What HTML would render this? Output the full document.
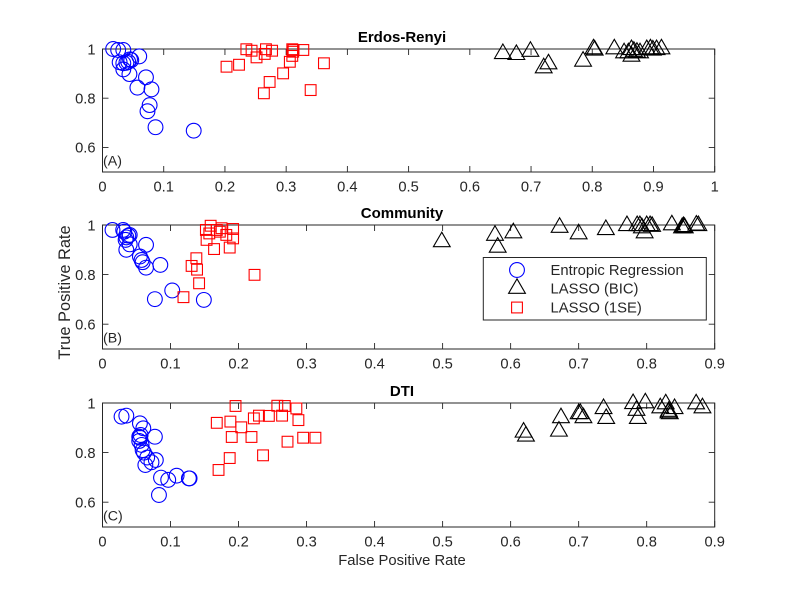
<!DOCTYPE html>
<html lang="en">
<head>
<meta charset="utf-8">
<title>True Positive Rate vs False Positive Rate</title>
<style>
html,body{margin:0;padding:0;background:#fff;width:789px;height:592px;overflow:hidden}
svg{display:block;font-family:"Liberation Sans",sans-serif;filter:blur(0.35px)}
</style>
</head>
<body>
<svg id="chart" xmlns="http://www.w3.org/2000/svg" width="789" height="592" viewBox="0 0 789 592"></svg>
<script>
var panelTitles = ['Erdos-Renyi', 'Community', 'DTI'];
var panelTags = ['(A)', '(B)', '(C)'];
var xMaxes = [1, 0.9, 0.9];
var xTicksA = [0, 0.1, 0.2, 0.3, 0.4, 0.5, 0.6, 0.7, 0.8, 0.9, 1];
var xTicksBC = [0, 0.1, 0.2, 0.3, 0.4, 0.5, 0.6, 0.7, 0.8, 0.9];
var yTicks = [0.6, 0.8, 1];

var entropicAx = [.0174,.0256,.034,.06,.028,.034,.034,.044,.042,.045,.039,.047,.071,.057,.08,.077,.0735,.0866,.149];
var entropicAy = [1,.996,.996,.97,.946,.942,.917,.898,.948,.958,.944,.955,.885,.843,.836,.772,.747,.682,.668];
var bicAx = [.654,.676,.699,.7285,.7207,.785,.802,.804,.836,.852,.864,.859,.864,.868,.873,.878,.889,.895,.899,.905,.913];
var bicAy = [.981,.977,.99,.939,.923,.95,1,.995,1,.984,.997,.984,.97,.99,.986,.984,.997,1,.995,.997,1];
var sparseAx = [.235,.2435,.2516,.2026,.223,.265,.267,.277,.295,.273,.2636,.306,.31,.31,.3115,.312,.328,.3617,.34];
var sparseAy = [.999,.993,.966,.928,.936,.98,.999,.993,.901,.866,.82,.948,.972,.999,.989,.996,.996,.942,.833];

var entropicBx = [.0147,.0304,.032,.04,.035,.034,.038,.04,.035,.064,.055,.0574,.059,.064,.085,.1025,.077,.149];
var entropicBy = [.98,.98,.973,.96,.95,.94,.957,.922,.9,.92,.873,.859,.85,.828,.839,.736,.701,.698];
var bicBx = [.4988,.577,.581,.604,.672,.7,.74,.771,.786,.79,.797,.793,.8,.805,.808,.837,.852,.855,.856,.854,.873,.876];
var bicBy = [.932,.958,.91,.968,.99,.964,.981,.997,.997,.997,.968,.988,.997,.997,.994,1,.988,.99,.988,.993,.999,.997];
var sparseBx = [.152,.159,.153,.157,.168,.175,.1725,.182,.192,.192,.164,.187,.138,.131,.139,.142,.119,.2235];
var sparseBy = [.98,.997,.94,.966,.98,.987,.973,.96,.984,.946,.903,.909,.866,.835,.82,.765,.709,.799];

var entropicCx = [.028,.035,.055,.06,.054,.055,.056,.077,.054,.0575,.059,.061,.0657,.072,.063,.0784,.086,.0966,.109,.127,.128,.083];
var entropicCy = [.945,.949,.918,.898,.864,.86,.871,.864,.847,.831,.81,.8,.78,.761,.75,.77,.699,.69,.707,.696,.696,.629];
var bicCx = [.619,.6225,.674,.671,.7,.7025,.707,.7366,.7405,.78,.785,.787,.798,.82,.828,.841,.832,.834,.8325,.8727,.882];
var bicCy = [.882,.866,.94,.886,.956,.957,.94,.977,.937,.997,.97,.937,1,.98,.996,.977,.96,.956,.966,.996,.98];
var sparseCx = [.1956,.168,.188,.204,.19,.219,.2225,.23,.2446,.257,.268,.264,.285,.288,.272,.295,.313,.236,.187,.1706];
var sparseCy = [.988,.92,.925,.902,.863,.863,.938,.949,.948,.989,.988,.949,.978,.931,.844,.86,.86,.789,.778,.73];

var legendLabels = ['Entropic Regression', 'LASSO (BIC)', 'LASSO (1SE)'];

var svg = document.getElementById('chart');
var NS = 'http://www.w3.org/2000/svg';
var AXC = '#262626';
var left = 102.5, right = 714.7;
var panelTops = [49, 225, 403];
var panelBottoms = [172, 349, 527];

function make(tag, attrs, parent, text) {
  var el = document.createElementNS(NS, tag);
  for (var k in attrs) el.setAttribute(k, attrs[k]);
  if (text !== undefined) el.textContent = text;
  (parent || svg).appendChild(el);
  return el;
}
function xScale(v, i) { return left + v / xMaxes[i] * (right - left); }
function yScale(v, i) { return panelBottoms[i] - (v - 0.5) / 0.5 * (panelBottoms[i] - panelTops[i]); }

function circle(parent, cx, cy) {
  var el = make('circle', {cx: cx, cy: cy, r: 7.4, fill: 'none', stroke: '#0000ff', 'stroke-width': 1.1}, parent);
  
  
}
function triangle(parent, cx, cy) {
  var r = 9.7, hw = r * 0.866;
  var pts = cx + ',' + (cy - r) + ' ' + (cx + hw) + ',' + (cy + r / 2) + ' ' + (cx - hw) + ',' + (cy + r / 2);
  var el = make('polygon', {points: pts, fill: 'none', stroke: '#000', 'stroke-width': 1.1}, parent);
  
  
}
function square(parent, cx, cy) {
  var el = make('rect', {x: cx - 5.4, y: cy - 5.4, width: 10.8, height: 10.8, fill: 'none', stroke: '#ff0000', 'stroke-width': 1.1}, parent);
  
  
}
function drawSeries(parent, xs, ys, i, marker) {
  for (var n = 0; n < xs.length; n++) marker(parent, xScale(xs[n], i), yScale(ys[n], i));
}

function drawPanel(i, xTicks, entX, entY, bicX, bicY, sparseX, sparseY) {
  var t = panelTops[i], b = panelBottoms[i];
  var g = make('g', {}, svg);
  
  

  var axis = make('path', {fill: 'none', stroke: AXC, 'stroke-width': 1,
    d: 'M' + left + ' ' + t + 'H' + right + 'V' + b + 'H' + left + 'Z'}, g);
  
  

  xTicks.forEach(function (v) {
    var x = xScale(v, i);
    var tick = make('path', {fill: 'none', stroke: AXC, 'stroke-width': 0.9,
      d: 'M' + x + ' ' + b + 'v-6M' + x + ' ' + t + 'v6'}, g);
    
    
    var lab = make('text', {x: x, y: b + 19.5, 'text-anchor': 'middle', 'font-size': 14.7, fill: AXC}, g, String(v));
    
    
  });
  yTicks.forEach(function (v) {
    var y = yScale(v, i);
    var tick = make('path', {fill: 'none', stroke: AXC, 'stroke-width': 0.9,
      d: 'M' + left + ' ' + y + 'h6M' + right + ' ' + y + 'h-6'}, g);
    
    
    var lab = make('text', {x: 95.5, y: y + 5.3, 'text-anchor': 'end', 'font-size': 14.7, fill: AXC}, g, String(v));
    
    
  });

  var title = make('text', {x: 402, y: t - 7.2, 'text-anchor': 'middle', 'font-size': 15, 'font-weight': 'bold', fill: '#000'}, g, panelTitles[i]);
  
  
  var tag = make('text', {x: 103, y: b - 6.5, 'font-size': 14.2, fill: AXC}, g, panelTags[i]);
  
  

  drawSeries(g, entX, entY, i, circle);
  drawSeries(g, bicX, bicY, i, triangle);
  drawSeries(g, sparseX, sparseY, i, square);
}

drawPanel(0, xTicksA, entropicAx, entropicAy, bicAx, bicAy, sparseAx, sparseAy);
drawPanel(1, xTicksBC, entropicBx, entropicBy, bicBx, bicBy, sparseBx, sparseBy);
drawPanel(2, xTicksBC, entropicCx, entropicCy, bicCx, bicCy, sparseCx, sparseCy);

var yTitle = make('text', {x: 0, y: 0, transform: 'translate(70 292.5) rotate(-90)', 'text-anchor': 'middle', 'font-size': 16.4, fill: AXC}, svg, 'True Positive Rate');


var xTitle = make('text', {x: 402, y: 565, 'text-anchor': 'middle', 'font-size': 14.8, fill: AXC}, svg, 'False Positive Rate');



var legend = make('g', {}, svg);


var legendBox = make('rect', {x: 483.3, y: 257.5, width: 223, height: 62.5, fill: '#fff', stroke: AXC, 'stroke-width': 1}, legend);


var legendMarkers = [circle, triangle, square];
var legendYs = [270, 288.5, 307.5];
legendLabels.forEach(function (label, n) {
  legendMarkers[n](legend, 517, legendYs[n]);
  var txt = make('text', {x: 550.5, y: legendYs[n] + 5, 'font-size': 14.8, fill: AXC}, legend, label);
  
  
});
</script>
</body>
</html>
